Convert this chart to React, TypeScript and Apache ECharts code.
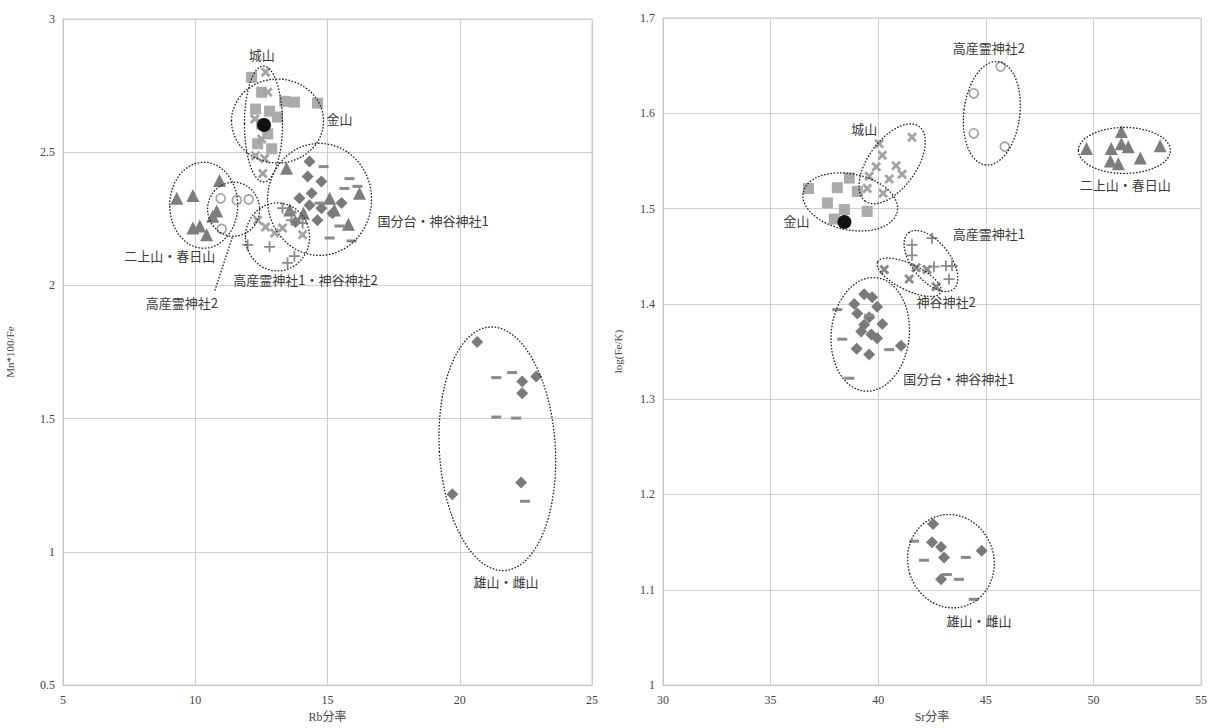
import React, { useEffect, useRef } from "react";
import * as echarts from "echarts";

const FONT = "'Liberation Serif','DejaVu Serif','Noto Sans CJK JP',serif";

// ---------- Left chart: Rb分率 vs Mn*100/Fe ----------
const leftXTicks = { min: 5, max: 25, interval: 5 };
const leftYTicks = { min: 0.5, max: 3, interval: 0.5 };

const leftTriFutagami = [[9.30, 2.327], [9.91, 2.338], [10.92, 2.394], [10.81, 2.279], [9.91, 2.216], [10.43, 2.19], [10.17, 2.223], [10.66, 2.26]];
const leftTriKokubu = [[13.45, 2.44], [15.26, 2.283], [16.21, 2.346], [15.79, 2.23], [15.08, 2.327], [14.09, 2.271], [13.57, 2.283]];
const leftSqKanayama = [[12.13, 2.781], [12.51, 2.725], [13.38, 2.691], [13.75, 2.688], [14.62, 2.684], [12.28, 2.662], [12.81, 2.654], [13.11, 2.632], [12.51, 2.606], [12.74, 2.569], [12.36, 2.532], [12.89, 2.513]];
const leftXJoyama = [[12.66, 2.80], [12.74, 2.725], [12.25, 2.625], [12.51, 2.55], [12.28, 2.487], [12.55, 2.42], [12.62, 2.476]];
const leftDiaKokubu = [[14.32, 2.465], [14.25, 2.409], [14.77, 2.39], [14.40, 2.346], [13.94, 2.327], [14.32, 2.301], [14.77, 2.29], [15.19, 2.271], [14.62, 2.245], [15.53, 2.309], [13.79, 2.238]];
const leftDashKokubu = [[14.85, 2.446], [15.83, 2.401], [16.13, 2.372], [13.64, 2.275], [15.45, 2.223], [15.91, 2.167], [15.08, 2.178], [14.70, 2.309], [15.64, 2.364]];
const leftXKamitani2 = [[12.36, 2.245], [12.66, 2.219], [13.0, 2.197], [13.30, 2.216], [14.06, 2.19]];
const leftPlusTaka1 = [[11.98, 2.152], [12.81, 2.145], [13.30, 2.29], [13.64, 2.245], [13.49, 2.085], [13.75, 2.11], [14.06, 2.234]];
const leftCircTaka2 = [[10.96, 2.327], [11.57, 2.32], [12.02, 2.323], [11.0, 2.212]];
const leftDiaOyama = [[20.66, 1.788], [22.36, 1.639], [22.89, 1.658], [22.36, 1.595], [22.32, 1.26], [19.72, 1.216]];
const leftDashOyama = [[21.38, 1.654], [21.98, 1.673], [21.38, 1.506], [22.13, 1.502], [22.47, 1.19]];
const leftTarget = [[12.6, 2.602]];

// group ellipses: [centerX, centerY] in data, radii in px, rotation rad
const leftEllipses = [
  { c: [12.58, 2.606], rx: 19, ry: 58, rot: 0 },
  { c: [13.11, 2.617], rx: 46, ry: 42, rot: 0 },
  { c: [14.70, 2.323], rx: 52, ry: 56, rot: 0 },
  { c: [10.32, 2.301], rx: 34, ry: 43, rot: 0 },
  { c: [11.45, 2.286], rx: 26, ry: 27, rot: 0 },
  { c: [13.11, 2.182], rx: 32, ry: 34, rot: 0 },
  { c: [21.42, 1.387], rx: 58, ry: 122, rot: 0.06 },
];
const leftLabels = [
  { t: "城山", c: [12.51, 2.866], a: "center" },
  { t: "金山", c: [15.45, 2.625], a: "center" },
  { t: "国分台・神谷神社1", c: [16.89, 2.245], a: "left" },
  { t: "二上山・春日山", c: [9.04, 2.112], a: "center" },
  { t: "高産霊神社1・神谷神社2", c: [14.17, 2.022], a: "center" },
  { t: "高産霊神社2", c: [9.49, 1.937], a: "center" },
  { t: "雄山・雌山", c: [21.75, 0.888], a: "center" },
];
const leftLeader = [[10.74, 1.981], [11.42, 2.186]];

// ---------- Right chart: Sr分率 vs log(Fe/K) ----------
const rightXTicks = { min: 30, max: 55, interval: 5 };
const rightYTicks = { min: 1, max: 1.7, interval: 0.1 };

const rightSqKanayama = [[36.76, 1.521], [38.10, 1.522], [38.66, 1.532], [39.03, 1.518], [37.64, 1.506], [39.49, 1.497], [37.96, 1.489], [38.43, 1.499]];
const rightXJoyama = [[40.05, 1.568], [41.57, 1.575], [40.19, 1.556], [40.83, 1.545], [41.11, 1.536], [39.91, 1.544], [39.58, 1.534], [40.51, 1.531], [40.23, 1.516], [39.49, 1.521]];
const rightCircTaka2 = [[45.69, 1.649], [44.44, 1.621], [44.44, 1.579], [45.88, 1.565]];
const rightTriFutagami = [[49.68, 1.563], [51.30, 1.581], [50.83, 1.563], [51.30, 1.568], [51.62, 1.565], [50.79, 1.550], [51.16, 1.547], [52.18, 1.553], [53.10, 1.566]];
const rightPlusTaka1 = [[42.50, 1.469], [41.57, 1.462], [41.57, 1.451], [42.59, 1.439], [43.15, 1.440], [43.43, 1.440], [43.29, 1.426]];
const rightXKamitani2 = [[40.28, 1.436], [41.44, 1.426], [41.76, 1.438], [42.27, 1.436], [42.69, 1.418]];
const rightDiaKokubu = [[39.35, 1.410], [39.72, 1.407], [38.89, 1.400], [39.95, 1.397], [39.03, 1.390], [39.58, 1.386], [40.19, 1.379], [39.35, 1.378], [39.21, 1.371], [39.68, 1.368], [39.95, 1.364], [39.0, 1.353], [39.58, 1.347], [41.06, 1.356]];
const rightDashKokubu = [[38.10, 1.394], [39.58, 1.388], [38.33, 1.363], [40.51, 1.352], [38.66, 1.322]];
const rightDiaOyama = [[42.55, 1.169], [42.50, 1.150], [42.92, 1.145], [43.06, 1.134], [42.92, 1.111], [44.81, 1.141]];
const rightDashOyama = [[41.67, 1.151], [42.13, 1.131], [44.07, 1.134], [43.19, 1.116], [43.75, 1.111], [44.44, 1.090]];
const rightTarget = [[38.43, 1.486]];

const rightEllipses = [
  { c: [38.70, 1.507], rx: 48, ry: 28, rot: -0.2 },
  { c: [40.65, 1.547], rx: 46, ry: 24, rot: 0.95 },
  { c: [45.28, 1.600], rx: 28, ry: 52, rot: -0.12 },
  { c: [51.44, 1.561], rx: 46, ry: 23, rot: 0 },
  { c: [42.45, 1.445], rx: 36, ry: 19, rot: -0.9 },
  { c: [41.44, 1.428], rx: 35, ry: 13, rot: -0.45 },
  { c: [39.63, 1.368], rx: 39, ry: 57, rot: -0.1 },
  { c: [43.38, 1.130], rx: 43, ry: 47, rot: 0.3 },
];
const rightLabels = [
  { t: "高産霊神社2", c: [45.14, 1.669], a: "center" },
  { t: "城山", c: [39.35, 1.584], a: "center" },
  { t: "金山", c: [36.20, 1.488], a: "center" },
  { t: "二上山・春日山", c: [51.48, 1.525], a: "center" },
  { t: "高産霊神社1", c: [45.14, 1.474], a: "center" },
  { t: "神谷神社2", c: [43.15, 1.402], a: "center" },
  { t: "国分台・神谷神社1", c: [43.75, 1.322], a: "center" },
  { t: "雄山・雌山", c: [44.68, 1.068], a: "center" },
];

const X_PATH = "path://M2,0L5,3L8,0L10,2L7,5L10,8L8,10L5,7L2,10L0,8L3,5L0,2Z";
const PLUS_PATH = "path://M4.2,0H5.8V4.2H10V5.8H5.8V10H4.2V5.8H0V4.2H4.2Z";

function sc(name: string, idx: number, data: number[][], symbol: string, size: any, color: string, hollow = false) {
  return {
    name,
    type: "scatter",
    xAxisIndex: idx,
    yAxisIndex: idx,
    data,
    symbol,
    symbolSize: size,
    silent: true,
    itemStyle: hollow
      ? { color: "#ffffff", borderColor: color, borderWidth: 1.6 }
      : { color, opacity: 1 },
  };
}

function axisX(idx: number, t: any, name: string) {
  return {
    type: "value",
    gridIndex: idx,
    min: t.min,
    max: t.max,
    interval: t.interval,
    name,
    nameLocation: "middle",
    nameGap: 25,
    nameTextStyle: { fontFamily: FONT, fontSize: 12, color: "#444" },
    axisLine: { show: true, lineStyle: { color: "#c4c4c4" } },
    axisTick: { show: false },
    axisLabel: { fontFamily: FONT, fontSize: 12, color: "#444", margin: 9 },
    splitLine: { show: true, lineStyle: { color: "#cfcfcf" } },
  };
}
function axisY(idx: number, t: any, name: string, gap: number) {
  return {
    type: "value",
    gridIndex: idx,
    min: t.min,
    max: t.max,
    interval: t.interval,
    name,
    nameLocation: "middle",
    nameGap: gap,
    nameTextStyle: { fontFamily: FONT, fontSize: 11, color: "#444" },
    axisLine: { show: true, lineStyle: { color: "#c4c4c4" } },
    axisTick: { show: false },
    axisLabel: { fontFamily: FONT, fontSize: 12, color: "#444", margin: 8 },
    splitLine: { show: true, lineStyle: { color: "#cfcfcf" } },
  };
}

const C_TRI = "#7d7d7d";
const C_DIA = "#7a7a7a";
const C_SQ = "#ababab";
const C_X = "#a3a3a3";
const C_PLUS = "#8a8a8a";
const C_CIRC = "#8a8a8a";
const C_DASH = "#8a8a8a";

export default function App() {
  const ref = useRef<HTMLDivElement>(null);
  useEffect(() => {
    if (!ref.current) return;
    const chart = echarts.init(ref.current, null, { renderer: "svg" });
    chart.setOption({
      animation: false,
      backgroundColor: "#ffffff",
      grid: [
        { left: 63, top: 19, width: 529, height: 673, show: true, borderColor: "#cfcfcf", borderWidth: 1 },
        { left: 663, top: 18, width: 540, height: 674, show: true, borderColor: "#cfcfcf", borderWidth: 1 },
      ],
      xAxis: [axisX(0, leftXTicks, "Rb分率"), axisX(1, rightXTicks, "Sr分率")],
      yAxis: [axisY(0, leftYTicks, "Mn*100/Fe", 48), axisY(1, rightYTicks, "log(Fe/K)", 40)],
      series: [
        sc("二上山・春日山", 0, leftTriFutagami, "triangle", 13, C_TRI),
        sc("国分台・神谷神社1 ▲", 0, leftTriKokubu, "triangle", 13, C_TRI),
        sc("金山", 0, leftSqKanayama, "rect", 11, C_SQ),
        sc("城山", 0, leftXJoyama, X_PATH, 10, C_X),
        sc("国分台・神谷神社1 ◆", 0, leftDiaKokubu, "diamond", 12, C_DIA),
        sc("国分台・神谷神社1 −", 0, leftDashKokubu, "rect", [10, 3], C_DASH),
        sc("神谷神社2", 0, leftXKamitani2, X_PATH, 10, C_X),
        sc("高産霊神社1", 0, leftPlusTaka1, PLUS_PATH, 11, C_PLUS),
        sc("高産霊神社2", 0, leftCircTaka2, "circle", 9, C_CIRC, true),
        sc("雄山・雌山 ◆", 0, leftDiaOyama, "diamond", 12, C_DIA),
        sc("雄山・雌山 −", 0, leftDashOyama, "rect", [10, 3], C_DASH),
        sc("試料", 0, leftTarget, "circle", 14, "#111111"),

        sc("金山", 1, rightSqKanayama, "rect", 11, C_SQ),
        sc("城山", 1, rightXJoyama, X_PATH, 10, C_X),
        sc("高産霊神社2", 1, rightCircTaka2, "circle", 9, C_CIRC, true),
        sc("二上山・春日山", 1, rightTriFutagami, "triangle", 13, C_TRI),
        sc("高産霊神社1", 1, rightPlusTaka1, PLUS_PATH, 11, C_PLUS),
        sc("神谷神社2", 1, rightXKamitani2, X_PATH, 10, C_PLUS),
        sc("国分台・神谷神社1 ◆", 1, rightDiaKokubu, "diamond", 12, C_DIA),
        sc("国分台・神谷神社1 −", 1, rightDashKokubu, "rect", [10, 3], C_DASH),
        sc("雄山・雌山 ◆", 1, rightDiaOyama, "diamond", 12, C_DIA),
        sc("雄山・雌山 −", 1, rightDashOyama, "rect", [10, 3], C_DASH),
        sc("試料", 1, rightTarget, "circle", 14, "#111111"),
      ],
    });

    const dotted = { fill: "none", stroke: "#222222", lineWidth: 1.3, lineDash: [1.6, 1.6] };
    const elements: any[] = [];
    const addSet = (gi: number, ells: any[], labels: any[]) => {
      ells.forEach((e) => {
        const p = chart.convertToPixel({ gridIndex: gi }, e.c) as number[];
        elements.push({
          type: "ellipse",
          x: p[0],
          y: p[1],
          rotation: e.rot,
          silent: true,
          z: 10,
          shape: { cx: 0, cy: 0, rx: e.rx, ry: e.ry },
          style: dotted,
        });
      });
      labels.forEach((l) => {
        const p = chart.convertToPixel({ gridIndex: gi }, l.c) as number[];
        elements.push({
          type: "text",
          x: p[0],
          y: p[1],
          silent: true,
          z: 11,
          style: {
            text: l.t,
            font: "13px 'Noto Sans CJK JP', sans-serif",
            fill: "#3a3a3a",
            textAlign: l.a,
            textVerticalAlign: "middle",
            align: l.a,
            verticalAlign: "middle",
          },
        });
      });
    };
    addSet(0, leftEllipses, leftLabels);
    addSet(1, rightEllipses, rightLabels);
    const a = chart.convertToPixel({ gridIndex: 0 }, leftLeader[0]) as number[];
    const b = chart.convertToPixel({ gridIndex: 0 }, leftLeader[1]) as number[];
    elements.push({
      type: "line",
      silent: true,
      z: 10,
      shape: { x1: a[0], y1: a[1], x2: b[0], y2: b[1] },
      style: { stroke: "#222222", lineWidth: 1.3, lineDash: [1.6, 1.6] },
    });
    chart.setOption({ graphic: { elements } });

    return () => chart.dispose();
  }, []);
  return (
    <div
      ref={ref}
      style={{ position: "absolute", left: 0, top: 0, width: 1210, height: 728 }}
    />
  );
}
